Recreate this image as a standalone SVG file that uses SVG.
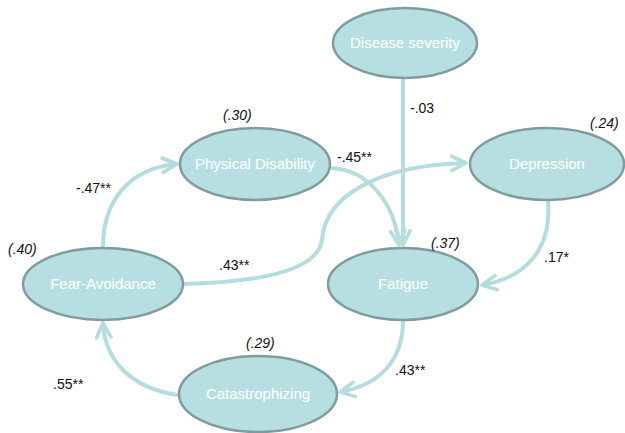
<svg xmlns="http://www.w3.org/2000/svg" width="625" height="433" viewBox="0 0 625 433">
<defs>
<style>
.node ellipse{fill:#b7dfe2;stroke:#819c9e;stroke-width:2.5}
.node text{fill:#ffffff;font-family:"Liberation Sans",Arial,sans-serif;font-size:15px;text-anchor:middle}
.edges path{fill:none;stroke:#b5dde0;stroke-width:4;marker-end:url(#arr)}
.lbl{font-family:"Liberation Sans",Arial,sans-serif;font-size:14px;fill:#111}
.r2{font-family:"Liberation Sans",Arial,sans-serif;font-size:14px;fill:#111;font-style:italic}
</style>
<marker id="arr" viewBox="0 0 10 10" refX="9" refY="5" markerWidth="4.5" markerHeight="4.5" orient="auto" markerUnits="strokeWidth">
<path d="M1,1 L9,5 L1,9" fill="none" stroke="#b5dde0" stroke-width="2" stroke-linecap="round" stroke-linejoin="round"/>
</marker>
</defs>
<rect width="625" height="433" fill="#ffffff"/>
<g class="edges">
<path d="M403,79 L403,245"/>
<path d="M103,247 C103,200 130,168 177,164"/>
<path d="M331,168 C370,170 395,205 399,245"/>
<path d="M183,284 C270,282 318,268 322,240 C325,195 380,165 466,163"/>
<path d="M548,201 C552,250 525,278 482,285"/>
<path d="M403,321 C403,360 380,385 340,392"/>
<path d="M178,395 C130,388 105,360 103,323"/>
</g>
<g id="n-disease" class="node"><ellipse cx="405" cy="43" rx="72" ry="35"/><text x="405" y="48">Disease severity</text></g>
<g id="n-physical" class="node"><ellipse cx="255" cy="164" rx="75" ry="36"/><text x="255" y="169">Physical Disability</text></g>
<g id="n-depression" class="node"><ellipse cx="547" cy="164" rx="77" ry="36"/><text x="547" y="169">Depression</text></g>
<g id="n-fear" class="node"><ellipse cx="103" cy="284" rx="80" ry="36"/><text x="103" y="289">Fear-Avoidance</text></g>
<g id="n-fatigue" class="node"><ellipse cx="403" cy="284" rx="75" ry="36"/><text x="403" y="289">Fatigue</text></g>
<g id="n-cat" class="node"><ellipse cx="258" cy="394" rx="79" ry="38"/><text x="258" y="399">Catastrophizing</text></g>
<g id="labels">
<text class="r2" x="223" y="120">(.30)</text>
<text class="r2" x="590" y="128">(.24)</text>
<text class="r2" x="8" y="254">(.40)</text>
<text class="r2" x="431" y="248">(.37)</text>
<text class="r2" x="246" y="348">(.29)</text>
<text class="lbl" x="410" y="113">-.03</text>
<text class="lbl" x="337" y="162">-.45**</text>
<text class="lbl" x="76" y="193">-.47**</text>
<text class="lbl" x="219" y="270">.43**</text>
<text class="lbl" x="544" y="262">.17*</text>
<text class="lbl" x="395" y="375">.43**</text>
<text class="lbl" x="53" y="389">.55**</text>
</g>
</svg>
